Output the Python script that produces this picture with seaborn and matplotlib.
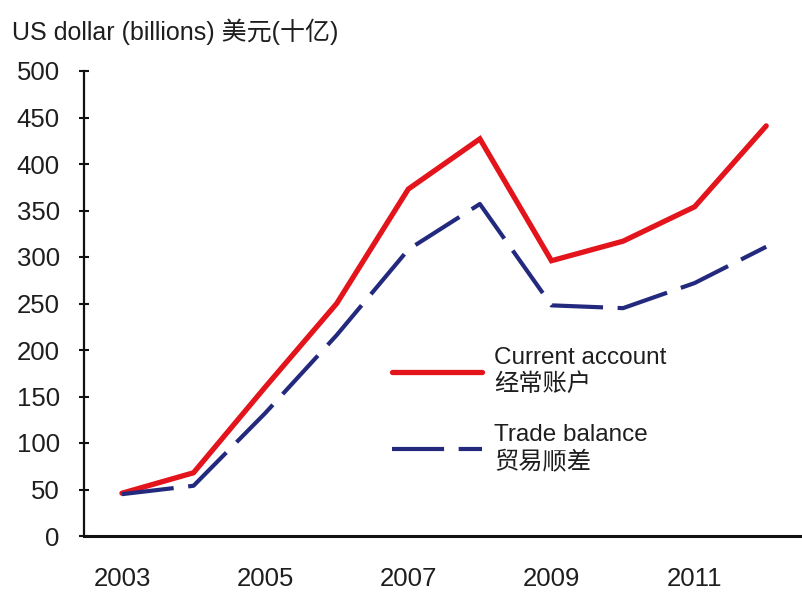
import matplotlib
matplotlib.use("Agg")
import matplotlib.pyplot as plt
import seaborn as sns
import pandas as pd

years = [2003, 2004, 2005, 2006, 2007, 2008, 2009, 2010, 2011, 2012]
current_account = [46, 68, 160, 250, 373, 427, 296, 317, 354, 441]
trade_balance = [45, 54, 132, 216, 308, 357, 248, 245, 272, 311]
x_ticks = [2003, 2005, 2007, 2009, 2011]
y_ticks = [0, 50, 100, 150, 200, 250, 300, 350, 400, 450, 500]

ca_label = "Current account\n经常账户"
tb_label = "Trade balance\n贸易顺差"
unit_title = "US dollar (billions) 美元(十亿)"

sns.set_theme(style="white")
plt.rcParams["font.family"] = ["Liberation Sans", "Noto Sans CJK SC", "DejaVu Sans"]

fig = plt.figure(figsize=(8.02, 5.93), dpi=100)
ax = fig.add_axes([84 / 802, 57 / 593, (802 - 84) / 802, (536 - 71) / 593])

df_ca = pd.DataFrame({"year": years, "value": current_account})
df_tb = pd.DataFrame({"year": years, "value": trade_balance})

sns.lineplot(data=df_ca, x="year", y="value", ax=ax, color="#e3141b",
             linewidth=3.8, label=ca_label, solid_joinstyle="miter")
sns.lineplot(data=df_tb, x="year", y="value", ax=ax, color="#232a7e",
             linewidth=3.0, label=tb_label, dashes=False)
ax.lines[-1].set_dashes((12.5, 3.5))

ax.set_xlim(2002.47, 2012.5)
ax.set_ylim(0, 500)
ax.set_xticks(x_ticks)
ax.set_yticks(y_ticks)
ax.set_xlabel("")
ax.set_ylabel("")

for s in ["top", "right"]:
    ax.spines[s].set_visible(False)
ax.spines["left"].set_linewidth(1.6)
ax.spines["bottom"].set_linewidth(2.2)
ax.spines["left"].set_color("#111111")
ax.spines["bottom"].set_color("#111111")

ax.tick_params(axis="y", direction="inout", length=7, width=1.5,
               color="#111111", labelsize=18.5, pad=14, left=True)
ax.tick_params(axis="x", length=0, labelsize=18.5, pad=22)
for lab in ax.get_xticklabels() + ax.get_yticklabels():
    lab.set_color("#1e1e1e")

leg = ax.legend(loc="upper left", bbox_to_anchor=(392 / 802, 1 - 347 / 593),
                bbox_transform=fig.transFigure, frameon=False, fontsize=17.5,
                handlelength=3.7, handletextpad=0.5, labelspacing=1.15,
                borderpad=0, borderaxespad=0)
for t in leg.get_texts():
    t.set_color("#1e1e1e")
    t.set_linespacing(1.25)

fig.text(12 / 802, 1 - 32 / 593, unit_title, fontsize=18, va="center",
         ha="left", color="#1e1e1e")

fig.savefig("out.png", dpi=100, facecolor="white")
